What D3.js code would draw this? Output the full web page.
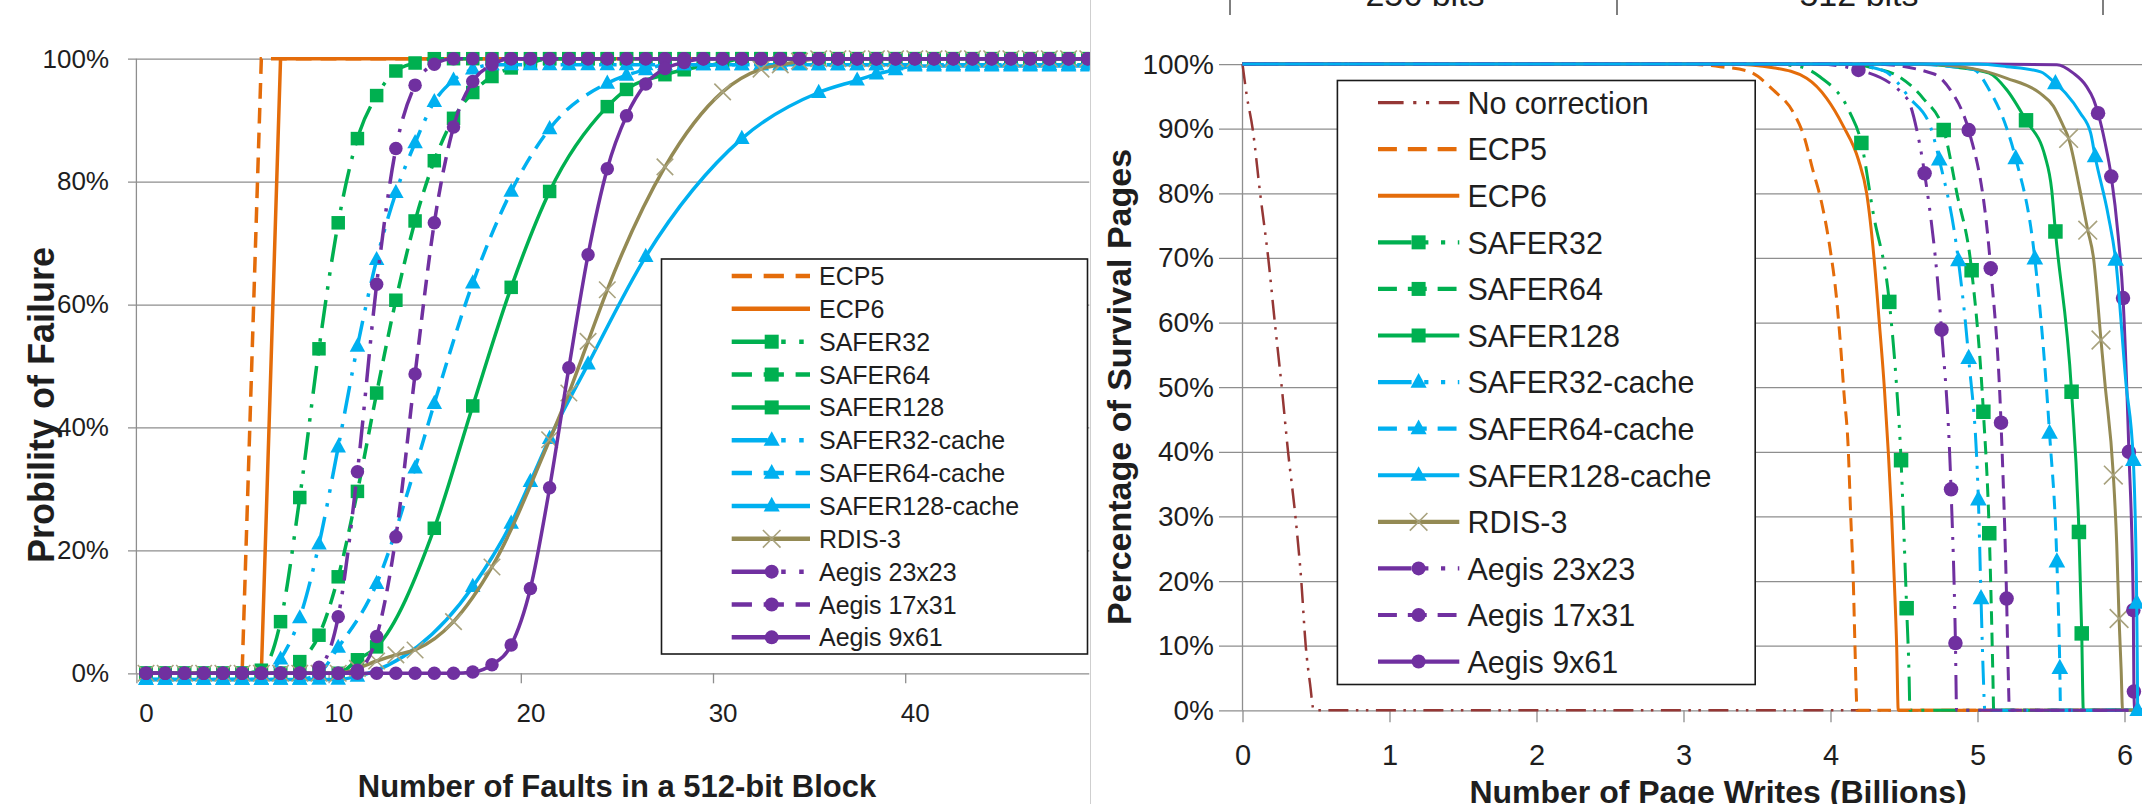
<!doctype html>
<html>
<head>
<meta charset="utf-8">
<title>Probability of failure and surviving pages</title>
<script src="https://d3js.org/d3.v7.min.js"></script>
<style>
  body { margin: 0; background: #fff; overflow: hidden; }
  text { font-family: "Liberation Sans", Arial, sans-serif; fill: #1e1e1e; }
</style>
</head>
<body>
<script>
// ---------------- left chart data: probability of failure (%) per fault count ----------------
var faults = d3.range(0, 50);
var failTicks = [0, 20, 40, 60, 80, 100];
var faultLabels = [0, 10, 20, 30, 40];

var ecp5 = [0,0,0,0,0,0,100,100,100,100,
  100,100,100,100,100,100,100,100,100,100,
  100,100,100,100,100,100,100,100,100,100,
  100,100,100,100,100,100,100,100,100,100,
  100,100,100,100,100,100,100,100,100,100];
var ecp6 = [0,0,0,0,0,0,0,100,100,100,
  100,100,100,100,100,100,100,100,100,100,
  100,100,100,100,100,100,100,100,100,100,
  100,100,100,100,100,100,100,100,100,100,
  100,100,100,100,100,100,100,100,100,100];
var safer32 = [0,0,0,0,0,0,0.5,8.4,28.6,52.8,
  73.3,87,94,98,99.3,100,100,100,100,100,
  100,100,100,100,100,100,100,100,100,100,
  100,100,100,100,100,100,100,100,100,100,
  100,100,100,100,100,100,100,100,100,100];
var safer64 = [0,0,0,0,0,0,0,0,1.9,6.2,
  15.7,29.6,45.6,60.7,73.6,83.4,90.3,94.5,97.1,98.5,
  99.3,100,100,100,100,100,100,100,100,100,
  100,100,100,100,100,100,100,100,100,100,
  100,100,100,100,100,100,100,100,100,100];
var safer128 = [0,0,0,0,0,0,0,0,0,0,
  0,2.2,4.3,null,null,23.6,null,43.5,null,62.8,
  null,78.4,null,null,92.2,95.0,null,97.4,98.2,null,
  99.3,100,100,100,100,100,100,100,100,100,
  100,100,100,100,100,100,100,100,100,100];
var safer32c = [-1,-1,-1,-1,-1,-1,-1,2.3,9.0,21,
  36.8,53.2,67.3,78.2,86.3,93,96.5,98.3,99,99,
  99,99,99,99,99,99,99,99,99,99,
  99,99,99,99,99,99,99,99,99,99,
  99,99,99,99,99,99,99,99,99,99];
var safer64c = [-1,-1,-1,-1,-1,-1,-1,-1,-1,0,
  4.2,null,14.6,null,33.4,43.9,null,63.5,null,78.4,
  null,88.6,null,null,96,97.3,98.2,99,99,99,
  99,99,99,99,99,99,99,99,99,99,
  99,99,99,99,99,99,99,99,99,99];
var safer128c = [-1,-1,-1,-1,-1,-1,-1,-1,-1,-1,
  -1,-0.5,null,null,null,null,null,14.1,null,24.4,
  31.2,38.2,null,50.3,null,null,67.8,null,null,null,
  null,87.0,null,null,null,94.5,null,96.5,97.5,98.2,
  98.8,98.8,98.8,98.8,98.8,98.8,98.8,98.8,98.8,98.8];
var rdis3 = [0,0,0,0,0,0,0,0,0,0,
  0,0.8,2.0,3.0,3.8,null,8.4,null,17.3,null,
  null,38.0,45.6,54.0,62.4,null,null,82.4,null,null,
  94.6,null,98.3,99.0,99.6,100,100,100,100,100,
  100,100,100,100,100,100,100,100,100,100];
var aegis23 = [0,0,0,0,0,0,0,0,0,1,
  9.2,32.8,63.3,85.4,95.7,99.1,100,100,100,100,
  100,100,100,100,100,100,100,100,100,100,
  100,100,100,100,100,100,100,100,100,100,
  100,100,100,100,100,100,100,100,100,100];
var aegis17 = [0,0,0,0,0,0,0,0,0,0,
  0,0.5,6.0,22.2,48.7,73.3,88.9,96.3,99.0,100,
  100,100,100,100,100,100,100,100,100,100,
  100,100,100,100,100,100,100,100,100,100,
  100,100,100,100,100,100,100,100,100,100];
var aegis9 = [0,0,0,0,0,0,0,0,0,0,
  0,0,0,0,0,0,0,0.2,1.4,4.6,
  13.8,30.2,49.7,68.1,82.1,90.7,95.9,98.4,99.4,100,
  100,100,100,100,100,100,100,100,100,100,
  100,100,100,100,100,100,100,100,100,100];

// ---------------- right chart data: surviving pages (%) vs page writes (billions) ----------------
var surviveTicks = [0,10,20,30,40,50,60,70,80,90,100];
var writeTicks = [0,1,2,3,4,5,6];
// *Line = points on the curve without a marker, *Marks = points with a marker
var rNoCorrLine = [[0,100],[0.03,95],[0.069,90],[0.12,80],[0.175,70],[0.22,60],[0.267,50],[0.31,40],[0.36,30],[0.40,20],[0.43,10],[0.46,4],[0.485,0],[6.2,0]];
var rEcp5Line = [[0,100],[3.0,100],[3.25,99.6],[3.45,98.8],[3.61,96],[3.75,92.4],[3.82,88.8],[3.88,83.6],[3.94,78.5],[4.0,71],[4.04,64],[4.07,56],[4.092,49],[4.12,40.8],[4.137,30.4],[4.155,20.1],[4.166,10.3],[4.177,1.5],[4.18,0],[6.2,0]];
var rEcp6Line = [[0,100],[3.3,100],[3.62,99.4],[3.838,97.8],[3.974,94.7],[4.087,90.4],[4.19,85.2],[4.246,80],[4.296,70],[4.332,60],[4.366,50],[4.393,40],[4.416,30],[4.434,20],[4.45,10],[4.461,0],[6.2,0]];
var rSafer32Line = [[0,100],[3.6,100],[3.79,99.6],[3.93,98],[4.13,92.6],[4.29,77],[4.45,50],[4.50,27],[4.535,5],[4.54,0],[6.2,0]];
var rSafer32Marks = [[4.21,87.8],[4.40,63.2],[4.48,38.7],[4.518,15.8]];
var rSafer64Line = [[0,100],[4.1,100],[4.29,99.4],[4.47,98],[4.63,94.7],[4.86,80],[5.095,15],[5.105,5],[5.11,0],[6.2,0]];
var rSafer64Marks = [[4.77,89.8],[4.96,68.1],[5.04,46.2],[5.08,27.4]];
var rSafer128Line = [[0,100],[4.6,100],[4.86,99.5],[5.08,98.6],[5.2,96],[5.46,85.7],[5.505,80.5],[5.72,0],[6.2,0]];
var rSafer128Marks = [[5.33,91.3],[5.53,74.1],[5.64,49.3],[5.69,27.6],[5.709,11.9]];
var rSafer32cLine = [[0,100],[4.1,100],[4.36,99],[4.54,94.7],[4.68,90.3],[5.04,5],[5.05,0],[6.2,0]];
var rSafer32cMarks = [[4.74,85.2],[4.87,69.6],[4.94,54.5],[5.006,32.6],[5.024,17.3]];
var rSafer64cLine = [[0,100],[4.5,100],[4.97,99.2],[5.08,96],[5.20,90],[5.565,0],[6.2,0]];
var rSafer64cMarks = [[5.26,85.4],[5.39,69.9],[5.49,42.9],[5.54,23.0],[5.56,6.5]];
var rSafer128cLine = [[0,100],[5.0,100],[5.20,99.6],[5.43,98.8],[5.60,95.5],[5.70,92.4],[5.77,89.3],[5.89,76.5],[6.01,50.6],[6.087,7.4],[6.2,0]];
var rSafer128cMarks = [[5.53,97.0],[5.80,85.7],[5.94,69.7],[6.06,38.7],[6.083,16.6],[6.09,0]];
var rRdisLine = [[0,100],[4.6,100],[4.97,99.3],[5.20,97.8],[5.425,95.5],[5.516,93.5],[5.584,90.4],[5.697,80.5],[5.788,70.2],[5.867,50.6],[5.947,25.8],[5.977,6.4],[5.987,0],[6.2,0]];
var rRdisMarks = [[5.62,88.5],[5.75,74.3],[5.84,57.3],[5.924,36.4],[5.963,14.2]];
var rAegis23Line = [[0,100],[3.9,100],[4.52,94.7],[4.59,89.5],[4.858,0],[6.2,0]];
var rAegis23Marks = [[4.19,99.1],[4.64,83.1],[4.755,58.9],[4.82,34.2],[4.85,10.4]];
var rAegis17Line = [[0,100],[4.3,100],[4.70,98.5],[4.83,95.5],[4.89,93],[5.21,5],[5.217,0],[6.2,0]];
var rAegis17Marks = [[4.94,89.8],[5.09,68.4],[5.16,44.5],[5.198,17.3]];
var rAegis9Line = [[0,100],[5.06,100],[5.54,99.9],[5.652,98.6],[5.74,96.6],[5.79,94.5],[5.867,87.9],[5.957,73.4],[6.07,0],[6.2,0]];
var rAegis9Marks = [[5.82,92.4],[5.91,82.6],[5.99,63.8],[6.03,40],[6.06,15.5],[6.064,2.9]];

// ---------------- styles ----------------
var C = { orange: "#E46C0A", green: "#00B050", blue: "#00B0F0", purple: "#7030A0",
          olive: "#948A54", xmark: "#A8A27E", brown: "#953735", grid: "#8e8e8e" };

function dashFor(kind, w) {
  if (kind === "dash") return [4.5 * w, 2.6 * w].join(",");
  if (kind === "ldd") return [8 * w, 3 * w, w, 3 * w, w, 3 * w].join(",");
  return null;
}

var leftSeries = [
  { name: "ECP5", v: ecp5, color: C.orange, dash: "dash", mark: null, linear: true },
  { name: "ECP6", v: ecp6, color: C.orange, dash: null, mark: null, linear: true },
  { name: "SAFER32", v: safer32, color: C.green, dash: "ldd", mark: "square" },
  { name: "SAFER64", v: safer64, color: C.green, dash: "dash", mark: "square" },
  { name: "SAFER128", v: safer128, color: C.green, dash: null, mark: "square" },
  { name: "SAFER32-cache", v: safer32c, color: C.blue, dash: "ldd", mark: "triangle" },
  { name: "SAFER64-cache", v: safer64c, color: C.blue, dash: "dash", mark: "triangle" },
  { name: "SAFER128-cache", v: safer128c, color: C.blue, dash: null, mark: "triangle" },
  { name: "RDIS-3", v: rdis3, color: C.olive, dash: null, mark: "x" },
  { name: "Aegis 23x23", v: aegis23, color: C.purple, dash: "ldd", mark: "circle" },
  { name: "Aegis 17x31", v: aegis17, color: C.purple, dash: "dash", mark: "circle" },
  { name: "Aegis 9x61", v: aegis9, color: C.purple, dash: null, mark: "circle" }
];

var rightSeries = [
  { name: "No correction", line: rNoCorrLine, marks: [], color: C.brown, dash: "ldd", mark: null, w: 2.5 },
  { name: "ECP5", line: rEcp5Line, marks: [], color: C.orange, dash: "dash", mark: null },
  { name: "ECP6", line: rEcp6Line, marks: [], color: C.orange, dash: null, mark: null },
  { name: "SAFER32", line: rSafer32Line, marks: rSafer32Marks, color: C.green, dash: "ldd", mark: "square" },
  { name: "SAFER64", line: rSafer64Line, marks: rSafer64Marks, color: C.green, dash: "dash", mark: "square" },
  { name: "SAFER128", line: rSafer128Line, marks: rSafer128Marks, color: C.green, dash: null, mark: "square" },
  { name: "SAFER32-cache", line: rSafer32cLine, marks: rSafer32cMarks, color: C.blue, dash: "ldd", mark: "triangle" },
  { name: "SAFER64-cache", line: rSafer64cLine, marks: rSafer64cMarks, color: C.blue, dash: "dash", mark: "triangle" },
  { name: "SAFER128-cache", line: rSafer128cLine, marks: rSafer128cMarks, color: C.blue, dash: null, mark: "triangle" },
  { name: "RDIS-3", line: rRdisLine, marks: rRdisMarks, color: C.olive, dash: null, mark: "x" },
  { name: "Aegis 23x23", line: rAegis23Line, marks: rAegis23Marks, color: C.purple, dash: "ldd", mark: "circle" },
  { name: "Aegis 17x31", line: rAegis17Line, marks: rAegis17Marks, color: C.purple, dash: "dash", mark: "circle" },
  { name: "Aegis 9x61", line: rAegis9Line, marks: rAegis9Marks, color: C.purple, dash: null, mark: "circle" }
];
// cyan SAFER128-cache sits on top in the right panel
var rightDrawOrder = [0,1,2,3,4,5,6,7,9,10,11,12,8];

// ---------------- helpers ----------------
function drawMarker(g, type, x, y, s, color) {
  if (type === "square") {
    g.append("rect").attr("x", x - s / 2).attr("y", y - s / 2).attr("width", s).attr("height", s).attr("fill", color);
  } else if (type === "circle") {
    g.append("circle").attr("cx", x).attr("cy", y).attr("r", s / 2).attr("fill", color);
  } else if (type === "triangle") {
    var w = s * 1.15, h = s * 1.05;
    g.append("path").attr("d", "M" + x + "," + (y - h * 0.62) + "L" + (x + w / 2) + "," + (y + h * 0.38) + "L" + (x - w / 2) + "," + (y + h * 0.38) + "Z").attr("fill", color);
  } else if (type === "x") {
    var r = s * 0.55;
    g.append("path").attr("d", "M" + (x - r) + "," + (y - r) + "L" + (x + r) + "," + (y + r) + "M" + (x + r) + "," + (y - r) + "L" + (x - r) + "," + (y + r))
      .attr("stroke", C.xmark).attr("stroke-width", 1.6).attr("fill", "none");
  }
}

var svg = d3.select("body").append("svg").attr("width", 2142).attr("height", 804);
var defs = svg.append("defs");
defs.append("clipPath").attr("id", "clipL").append("rect").attr("x", 0).attr("y", 0).attr("width", 1089.5).attr("height", 804);
defs.append("clipPath").attr("id", "clipR").append("rect").attr("x", 1092).attr("y", 0).attr("width", 1050).attr("height", 804);

// ================= LEFT CHART =================
var xL = d3.scaleLinear().domain([-0.5, 49.5]).range([136.4, 1097.4]);
var yL = d3.scaleLinear().domain([0, 100]).range([673.3, 58.7]);
var gL = svg.append("g").attr("clip-path", "url(#clipL)");

var yAxisL = gL.append("g").attr("transform", "translate(128,0)")
  .call(d3.axisLeft(yL).tickValues(failTicks).tickSize(-(1089.5 - 128)).tickPadding(19).tickFormat(function (d) { return d + "%"; }));
yAxisL.select(".domain").remove();
yAxisL.selectAll("line").attr("stroke", C.grid).attr("stroke-width", 1.3);
yAxisL.selectAll("text").attr("font-size", 26).attr("fill", "#1e1e1e");

gL.append("line").attr("x1", 136.4).attr("x2", 136.4).attr("y1", yL(100)).attr("y2", yL(0)).attr("stroke", C.grid).attr("stroke-width", 1.3);

var xTickL = gL.append("g").attr("transform", "translate(0," + yL(0) + ")")
  .call(d3.axisBottom(xL).tickValues([-0.5, 9.5, 19.5, 29.5, 39.5]).tickSize(10).tickFormat(""));
xTickL.select(".domain").remove();
xTickL.selectAll("line").attr("stroke", C.grid).attr("stroke-width", 1.3);

var xLabL = gL.append("g").attr("transform", "translate(0," + yL(0) + ")")
  .call(d3.axisBottom(xL).tickValues(faultLabels).tickSize(0).tickPadding(30).tickFormat(d3.format("d")));
xLabL.select(".domain").remove();
xLabL.selectAll("text").attr("font-size", 26).attr("fill", "#1e1e1e");

leftSeries.forEach(function (s) {
  var pts = faults.map(function (k) { return [k, s.v[k]]; }).filter(function (d) { return d[1] !== null; });
  var line = d3.line().x(function (d) { return xL(d[0]); }).y(function (d) { return yL(d[1]); })
    .curve(s.linear ? d3.curveLinear : d3.curveMonotoneX);
  gL.append("path").attr("d", line(pts)).attr("fill", "none").attr("stroke", s.color)
    .attr("stroke-width", 3.5).attr("stroke-dasharray", dashFor(s.dash, 3.5));
  if (s.mark) {
    var gm = gL.append("g");
    pts.forEach(function (d) { drawMarker(gm, s.mark, xL(d[0]), yL(d[1]), s.mark === "x" ? 15 : 13.5, s.color); });
  }
});

// left legend
var legL = gL.append("g");
legL.append("rect").attr("x", 661.5).attr("y", 259).attr("width", 426).attr("height", 395)
  .attr("fill", "#fff").attr("stroke", "#1a1a1a").attr("stroke-width", 1.6);
leftSeries.forEach(function (s, i) {
  var y = 276 + i * 32.85;
  legL.append("line").attr("x1", 731.7).attr("x2", 810).attr("y1", y).attr("y2", y)
    .attr("stroke", s.color).attr("stroke-width", 4.5).attr("stroke-dasharray", dashFor(s.dash, 4.5));
  if (s.mark) drawMarker(legL, s.mark, 771.7, y, s.mark === "x" ? 16 : 14, s.color);
  legL.append("text").attr("x", 819).attr("y", y).attr("dy", "0.36em").attr("font-size", 25).text(s.name);
});

gL.append("text").attr("transform", "translate(41,405) rotate(-90)").attr("text-anchor", "middle")
  .attr("dy", "0.35em").attr("font-size", 36).attr("font-weight", "bold").text("Probility of Failure");
gL.append("text").attr("x", 617).attr("y", 797).attr("text-anchor", "middle")
  .attr("font-size", 31).attr("font-weight", "bold").text("Number of Faults in a 512-bit Block");

// divider between the two panels
svg.append("line").attr("x1", 1090.5).attr("x2", 1090.5).attr("y1", 0).attr("y2", 804).attr("stroke", "#cfcfcf").attr("stroke-width", 1);

// ================= RIGHT CHART =================
var xR = d3.scaleLinear().domain([0, 6]).range([1242.5, 2124.5]);
var yR = d3.scaleLinear().domain([0, 100]).range([710.3, 64.1]);
var gR = svg.append("g").attr("clip-path", "url(#clipR)");

// header fragment of a table above the chart
[1230, 1617, 2103].forEach(function (x) {
  gR.append("line").attr("x1", x).attr("x2", x).attr("y1", 0).attr("y2", 15).attr("stroke", "#555").attr("stroke-width", 1.5);
});
gR.append("text").attr("x", 1425).attr("y", 6).attr("text-anchor", "middle").attr("font-size", 34).text("256 bits");
gR.append("text").attr("x", 1859).attr("y", 6).attr("text-anchor", "middle").attr("font-size", 34).text("512 bits");

var yAxisR = gR.append("g").attr("transform", "translate(1219,0)")
  .call(d3.axisLeft(yR).tickValues(surviveTicks).tickSize(-(2142 - 1219)).tickPadding(5).tickFormat(function (d) { return d + "%"; }));
yAxisR.select(".domain").remove();
yAxisR.selectAll("line").attr("stroke", C.grid).attr("stroke-width", 1.3);
yAxisR.selectAll("text").attr("font-size", 28).attr("fill", "#1e1e1e");

gR.append("line").attr("x1", xR(0)).attr("x2", xR(0)).attr("y1", yR(100)).attr("y2", yR(0)).attr("stroke", C.grid).attr("stroke-width", 1.3);

var xAxisR = gR.append("g").attr("transform", "translate(0," + yR(0) + ")")
  .call(d3.axisBottom(xR).tickValues(writeTicks).tickSize(12).tickPadding(22).tickFormat(d3.format("d")));
xAxisR.select(".domain").remove();
xAxisR.selectAll("line").attr("stroke", C.grid).attr("stroke-width", 1.3);
xAxisR.selectAll("text").attr("font-size", 29).attr("fill", "#1e1e1e");

rightDrawOrder.forEach(function (idx) {
  var s = rightSeries[idx];
  var w = s.w || 3;
  var pts = s.line.concat(s.marks).slice().sort(function (a, b) { return a[0] - b[0]; });
  var line = d3.line().x(function (d) { return xR(d[0]); }).y(function (d) { return yR(d[1]); }).curve(d3.curveMonotoneX);
  gR.append("path").attr("d", line(pts)).attr("fill", "none").attr("stroke", s.color)
    .attr("stroke-width", w).attr("stroke-dasharray", dashFor(s.dash, w));
  if (s.mark) {
    var gm = gR.append("g");
    s.marks.forEach(function (d) { drawMarker(gm, s.mark, xR(d[0]), yR(d[1]), s.mark === "x" ? 17 : 14.5, s.color); });
  }
});

// right legend
var legR = gR.append("g");
legR.append("rect").attr("x", 1337.4).attr("y", 80.5).attr("width", 417.8).attr("height", 604)
  .attr("fill", "#fff").attr("stroke", "#1a1a1a").attr("stroke-width", 1.6);
rightSeries.forEach(function (s, i) {
  var y = 102.6 + i * 46.58;
  var w = s.w ? 3.2 : 4.2;
  legR.append("line").attr("x1", 1378).attr("x2", 1459.3).attr("y1", y).attr("y2", y)
    .attr("stroke", s.color).attr("stroke-width", w).attr("stroke-dasharray", dashFor(s.dash, w));
  if (s.mark) drawMarker(legR, s.mark, 1418.6, y, s.mark === "x" ? 16 : 14, s.color);
  legR.append("text").attr("x", 1467.4).attr("y", y).attr("dy", "0.37em").attr("font-size", 30.5).text(s.name);
});

gR.append("text").attr("transform", "translate(1119,387) rotate(-90)").attr("text-anchor", "middle")
  .attr("dy", "0.35em").attr("font-size", 34).attr("font-weight", "bold").text("Percentage of Survival Pages");
gR.append("text").attr("x", 1718).attr("y", 803).attr("text-anchor", "middle")
  .attr("font-size", 32).attr("font-weight", "bold").text("Number of Page Writes (Billions)");
</script>
</body>
</html>
